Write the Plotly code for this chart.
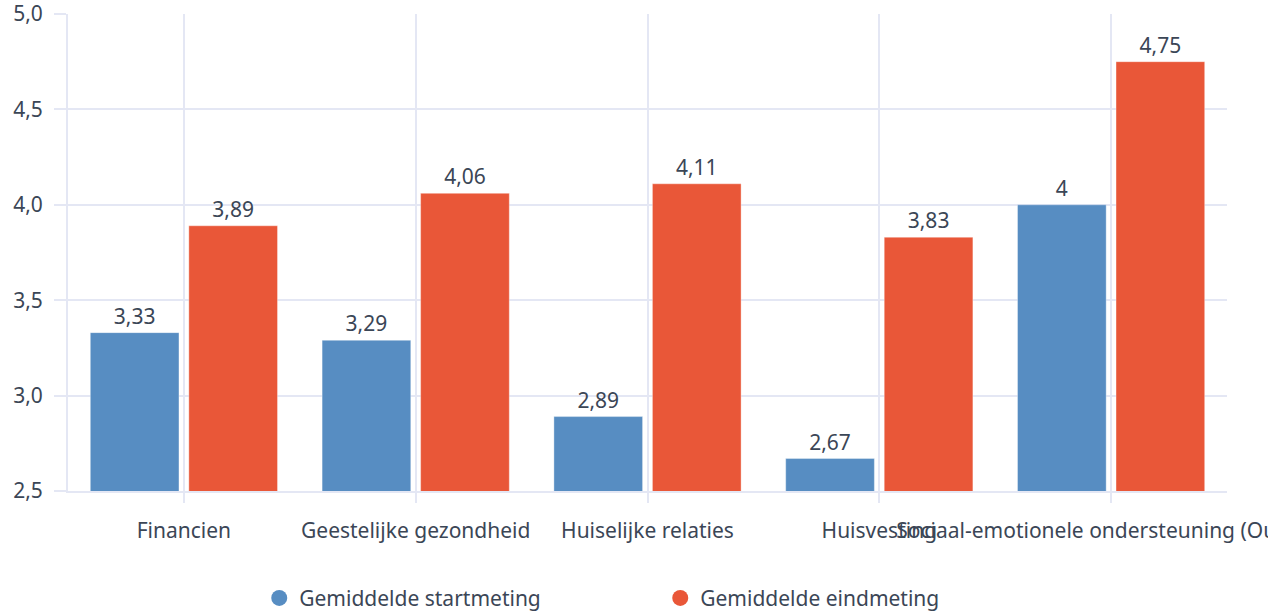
import plotly.graph_objects as go

categories = [
    "Financien",
    "Geestelijke gezondheid",
    "Huiselijke relaties",
    "Huisvesting",
    "Sociaal-emotionele ondersteuning (Ouders)",
]
start_values = [3.33, 3.29, 2.89, 2.67, 4]
end_values = [3.89, 4.06, 4.11, 3.83, 4.75]

blue = "#578DC2"
red = "#E95738"
grid = "#E4E7F4"
text_color = "#3B4656"


def fmt(v):
    # Dutch decimal comma, drop trailing zeros
    return f"{v:g}".replace(".", ",")


fig = go.Figure()
fig.add_trace(go.Bar(
    x=categories, y=start_values, name="Gemiddelde startmeting",
    marker=dict(color=blue, line=dict(color="rgba(255,255,255,0.35)", width=1)),
    text=[fmt(v) for v in start_values], textposition="outside",
    textfont=dict(size=21, color=text_color), showlegend=False,
))
fig.add_trace(go.Bar(
    x=categories, y=end_values, name="Gemiddelde eindmeting",
    marker=dict(color=red, line=dict(color="rgba(255,255,255,0.35)", width=1)),
    text=[fmt(v) for v in end_values], textposition="outside",
    textfont=dict(size=21, color=text_color), showlegend=False,
))
# legend entries drawn as circles
fig.add_trace(go.Scatter(x=[None], y=[None], mode="markers", name="Gemiddelde startmeting",
                         marker=dict(color=blue, size=20, symbol="circle")))
fig.add_trace(go.Scatter(x=[None], y=[None], mode="markers", name="Gemiddelde eindmeting",
                         marker=dict(color=red, size=20, symbol="circle")))

fig.update_layout(
    template="plotly_white",
    width=1268,
    height=615,
    margin=dict(l=68, r=41, t=14, b=124, autoexpand=False),
    separators=",.",
    font=dict(family="Noto Sans", size=21, color=text_color),
    barmode="group",
    bargap=0.15,
    bargroupgap=0.1,
    showlegend=True,
    legend=dict(orientation="h", x=0.165, xanchor="left", y=-0.182, yanchor="top",
                entrywidth=356, font=dict(size=21, color=text_color)),
    plot_bgcolor="white",
    paper_bgcolor="white",
)
fig.update_xaxes(
    type="category", tickangle=0, showgrid=True, gridcolor=grid, gridwidth=2,
    ticks="outside", ticklen=10, tickcolor=grid, tickwidth=2, showline=True,
    linecolor=grid, linewidth=2, range=[-0.5, 4.5], automargin=False,
    ticklabelstandoff=10, ticklabeloverflow="allow",
)
fig.update_yaxes(
    range=[2.5, 5.0], dtick=0.5, tickformat=".1f", showgrid=True, gridcolor=grid,
    gridwidth=2, ticks="outside", ticklen=12, tickcolor=grid, tickwidth=2,
    showline=True, linecolor=grid, linewidth=2, zeroline=False,
    ticklabelstandoff=7, automargin=False, ticklabeloverflow="allow",
)

# drop the default 8px page margin so the chart sits at the window's top-left
fig.write_html("out.html", config={"displayModeBar": False},
               post_script="document.body.style.margin='0';")
